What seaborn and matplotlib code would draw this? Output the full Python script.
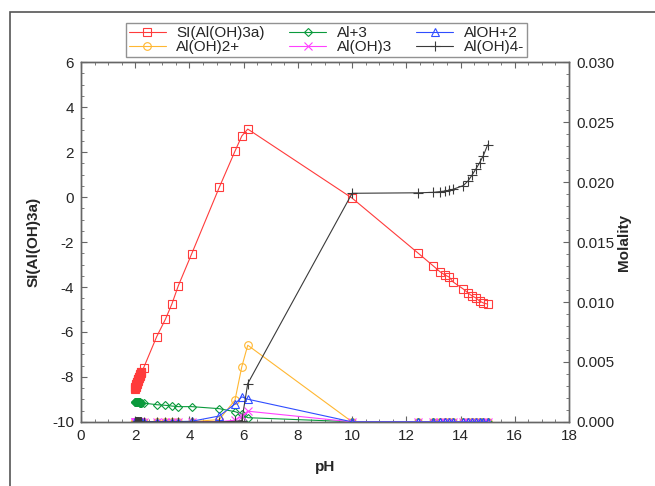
import matplotlib
matplotlib.use('Agg')
import matplotlib.pyplot as plt
import matplotlib.patches as patches
from matplotlib.ticker import MultipleLocator, FormatStrFormatter
import seaborn as sns

# pH steps shared by every series (dense start near pH 2)
ph = [1.98, 1.99, 2.00, 2.01, 2.02, 2.03, 2.04, 2.05, 2.06, 2.07, 2.08, 2.09, 2.10,
      2.11, 2.12, 2.13, 2.14, 2.15, 2.16, 2.17, 2.18, 2.19, 2.20, 2.21, 2.22,
      2.31, 2.79, 3.11, 3.35, 3.59, 4.08, 5.10, 5.68, 5.93, 6.15, 10.0,
      12.43, 13.0, 13.25, 13.43, 13.58, 13.73, 14.1, 14.28, 14.43, 14.57,
      14.7, 14.84, 15.0]

# saturation index (left axis)
si_aloh3a = [-8.52, -8.49, -8.46, -8.43, -8.40, -8.36, -8.33, -8.30, -8.27, -8.24,
             -8.21, -8.17, -8.14, -8.11, -8.08, -8.05, -8.02, -7.98, -7.95, -7.92,
             -7.89, -7.86, -7.83, -7.79, -7.76,
             -7.59, -6.21, -5.44, -4.76, -3.94, -2.53, 0.43, 2.04, 2.71, 3.02, -0.05,
             -2.49, -3.07, -3.33, -3.47, -3.56, -3.78, -4.09, -4.27, -4.40, -4.49,
             -4.62, -4.71, -4.76]

# molalities (right axis)
al3 = [0.00167, 0.00167, 0.00167, 0.00166, 0.00166, 0.00166, 0.00166, 0.00165, 0.00165,
       0.00165, 0.00165, 0.00164, 0.00164, 0.00164, 0.00164, 0.00163, 0.00163, 0.00163,
       0.00163, 0.00162, 0.00162, 0.00162, 0.00162, 0.00161, 0.00161,
       0.00158, 0.00144, 0.00139, 0.00133, 0.00128, 0.00128, 0.00111, 0.00086, 0.00067,
       0.00036, 0.00002,
       0.00002, 0.00002, 0.00002, 0.00002, 0.00002, 0.00002, 0.00002, 0.00002, 0.00002,
       0.00002, 0.00002, 0.00002, 0.00002]
aloh2 = [0.00001] * 25 + [0.00001, 0.00002, 0.00002, 0.00002, 0.00002, 0.00003, 0.00020,
                          0.00183, 0.00460, 0.00640, 0.00001] + [0.00001] * 13
aloh_2 = [0.00003] * 25 + [0.00003, 0.00003, 0.00003, 0.00004, 0.00004, 0.00006, 0.00050,
                           0.00150, 0.00210, 0.00190, 0.00001] + [0.00001] * 13
aloh3 = [0.00001] * 25 + [0.00001, 0.00001, 0.00001, 0.00001, 0.00001, 0.00001, 0.00003,
                          0.00015, 0.00050, 0.00090, 0.00001] + [0.00001] * 13
aloh4 = [0.00001] * 25 + [0.00001, 0.00001, 0.00001, 0.00001, 0.00001, 0.00001, 0.00002,
                          0.00005, 0.00012, 0.00320, 0.01906,
                          0.01910, 0.01914, 0.01920, 0.01925, 0.01930, 0.01940, 0.01970,
                          0.02010, 0.02060, 0.02110, 0.02160, 0.02220, 0.02310]

sns.set_style('ticks')
plt.rcParams['font.family'] = ['Liberation Sans', 'DejaVu Sans']
plt.rcParams['font.size'] = 11
plt.rcParams['axes.unicode_minus'] = False

fig = plt.figure(figsize=(6.55, 4.86), dpi=100)
ax = fig.add_axes([0.1237, 0.1317, 0.745, 0.7407])
ax2 = ax.twinx()

common = dict(estimator=None, sort=False, linewidth=0.8, markersize=5.5,
              markeredgewidth=0.8)

sns.lineplot(x=ph, y=si_aloh3a, ax=ax, color='#ff3b3b', marker='s',
             markerfacecolor='none', markeredgecolor='#ff3b3b',
             label='SI(Al(OH)3a)', **common)

series = [
    (aloh2, 'Al(OH)2+', '#ffb732', 'o'),
    (al3, 'Al+3', '#0a9a3c', 'D'),
    (aloh3, 'Al(OH)3', '#ff40ff', 'x'),
    (aloh_2, 'AlOH+2', '#2f4dff', '^'),
    (aloh4, 'Al(OH)4-', '#3a3a3a', '+'),
]
for vals, name, col, mk in series:
    kw = dict(common)
    if mk == 'D':
        kw['markersize'] = 4.5
    if mk == '+':
        kw['markersize'] = 6.5
    sns.lineplot(x=ph, y=vals, ax=ax2, color=col, marker=mk,
                 markerfacecolor='none', markeredgecolor=col, label=name, **kw)

# axes limits and ticks
ax.set_xlim(0, 18)
ax.set_ylim(-10, 6)
ax2.set_ylim(0, 0.030)
ax.xaxis.set_major_locator(MultipleLocator(2))
ax.xaxis.set_minor_locator(MultipleLocator(0.5))
ax.yaxis.set_major_locator(MultipleLocator(2))
ax.yaxis.set_minor_locator(MultipleLocator(0.5))
ax2.yaxis.set_major_locator(MultipleLocator(0.005))
ax2.yaxis.set_minor_locator(MultipleLocator(0.001))
ax2.yaxis.set_major_formatter(FormatStrFormatter('%.3f'))

ax.tick_params(which='both', direction='in', top=True, right=False,
               color='#666666', labelsize=11, pad=5)
ax.tick_params(which='major', length=4)
ax.tick_params(which='minor', length=2)
ax2.tick_params(which='both', direction='in', left=False, right=True,
                color='#666666', labelsize=11, pad=5)
ax2.tick_params(which='major', length=4)
ax2.tick_params(which='minor', length=2)

for a in (ax, ax2):
    for sp in a.spines.values():
        sp.set_visible(True)
        sp.set_color('#666666')
        sp.set_linewidth(1.0)

ax.set_xlabel('pH', fontweight='bold', fontsize=11, labelpad=12)
ax.set_ylabel('SI(Al(OH)3a)', fontweight='bold', fontsize=11, labelpad=8)
ax2.set_ylabel('Molality', fontweight='bold', fontsize=11, labelpad=2)

# single legend at the top, rows filled like the original
h1, l1 = ax.get_legend_handles_labels()
h2, l2 = ax2.get_legend_handles_labels()
ax.get_legend().remove()
ax2.get_legend().remove()
hd = dict(zip(l1 + l2, h1 + h2))
order = ['SI(Al(OH)3a)', 'Al(OH)2+', 'Al+3', 'Al(OH)3', 'AlOH+2', 'Al(OH)4-']
leg = fig.legend([hd[k] for k in order], order, loc='upper center',
                 bbox_to_anchor=(0.4985, 0.953), ncol=3, fontsize=11,
                 frameon=True, fancybox=False, edgecolor='#777777',
                 handlelength=2.4, handletextpad=0.7, columnspacing=1.6,
                 borderpad=0.2, labelspacing=0.0, borderaxespad=0)
leg.get_frame().set_linewidth(1.0)

# screenshot frame
fig.patches.append(patches.Rectangle((9.5 / 655, -0.05), 1.2, 1 - 12.5 / 486 + 0.05,
                                     transform=fig.transFigure, fill=False,
                                     edgecolor='#555555', linewidth=1.2))

plt.savefig('out.png', dpi=100)
